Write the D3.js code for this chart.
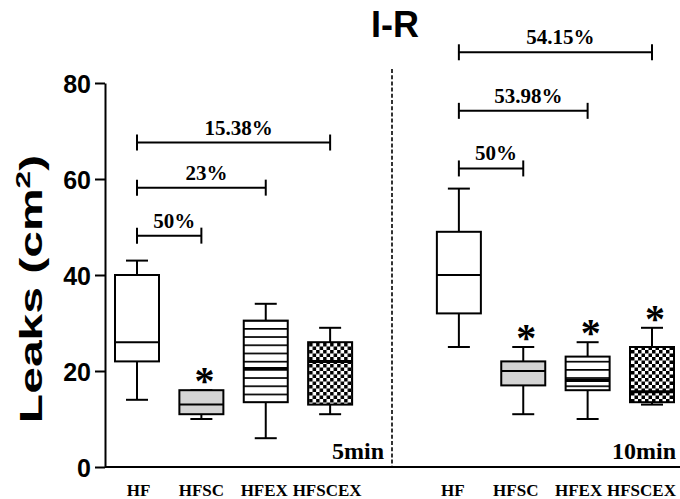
<!DOCTYPE html>
<html>
<head>
<meta charset="utf-8">
<script src="https://cdn.jsdelivr.net/npm/d3@7"></script>
<style>
  html, body { margin: 0; padding: 0; background: #fff; }
  svg { display: block; }
</style>
</head>
<body>
<svg id="chart" width="680" height="499"></svg>
<script>
// ---- data ----
const categories = ["HF", "HFSC", "HFEX", "HFSCEX"];
const periods = ["5min", "10min"];
const yTicks = [0, 20, 40, 60, 80];

const min5  = [14, 10, 6, 11];
const q1_5  = [22, 11, 13.5, 13];
const med5  = [26, 13, 20.5, 22];
const q3_5  = [40, 16, 30.5, 26];
const max5  = [43, 16, 34, 29];

const min10 = [25, 11, 10, 13];
const q1_10 = [32, 17, 16, 13.5];
const med10 = [40, 20, 18, 15.7];
const q3_10 = [49, 22, 23, 25];
const max10 = [58, 25, 26, 29];

const star5  = [false, true, false, false];
const star10 = [false, true, true, true];

// comparison brackets: from HF to target category
const bracketTargets = ["HFSC", "HFEX", "HFSCEX"];
const bracketLabels5  = ["50%", "23%", "15.38%"];
const bracketLevels5  = [48.2, 58.2, 67.6];
const bracketLabels10 = ["50%", "53.98%", "54.15%"];
const bracketLevels10 = [62.2, 74.2, 86.4];

// ---- layout ----
const svg = d3.select("#chart");
const y = d3.scaleLinear().domain([0, 80]).range([467, 83]);
const slot = (p, c) => p * 5 + categories.indexOf(c);
const x = d3.scaleLinear().domain([0, 8]).range([137, 652]);
const xLab = d3.scaleLinear().domain([0, 8]).range([138, 641]);
const boxW = 44, capW = 22;

const serif = "'Liberation Serif', 'Times New Roman', serif";
const sans = "'Liberation Sans', Arial, sans-serif";

// patterns
const defs = svg.append("defs");
const stripes = defs.append("pattern").attr("id", "stripes")
  .attr("patternUnits", "userSpaceOnUse").attr("width", 10).attr("height", 8.2);
stripes.append("rect").attr("width", 10).attr("height", 8.2).attr("fill", "#fff");
stripes.append("rect").attr("y", 0).attr("width", 10).attr("height", 1.7).attr("fill", "#000");
const checker = defs.append("pattern").attr("id", "checker")
  .attr("patternUnits", "userSpaceOnUse").attr("width", 7).attr("height", 7);
checker.append("rect").attr("width", 7).attr("height", 7).attr("fill", "#fff");
checker.append("rect").attr("width", 3.5).attr("height", 3.5).attr("fill", "#000");
checker.append("rect").attr("x", 3.5).attr("y", 3.5).attr("width", 3.5).attr("height", 3.5).attr("fill", "#000");

const fills = ["#ffffff", "#d4d4d4", "url(#stripes)", "url(#checker)"];

// build rows
const rows = [];
categories.forEach((c, i) => {
  rows.push({p: 0, c, i, min: min5[i], q1: q1_5[i], med: med5[i], q3: q3_5[i], max: max5[i], star: star5[i]});
});
categories.forEach((c, i) => {
  rows.push({p: 1, c, i, min: min10[i], q1: q1_10[i], med: med10[i], q3: q3_10[i], max: max10[i], star: star10[i]});
});

// ---- axes ----
const yAxis = svg.append("g").attr("transform", "translate(105,0)")
  .call(d3.axisLeft(y).tickValues(yTicks).tickSize(10).tickSizeOuter(0).tickPadding(4));
yAxis.select(".domain").attr("stroke", "#000").attr("stroke-width", 2);
yAxis.selectAll(".tick line").attr("stroke", "#000").attr("stroke-width", 2);
yAxis.selectAll(".tick text").attr("font-family", sans).attr("font-weight", "bold")
  .attr("font-size", 25).attr("fill", "#000").attr("dy", "0.36em");

// x axis baseline across full width
svg.append("line").attr("x1", 105).attr("x2", 680).attr("y1", y(0)).attr("y2", y(0))
  .attr("stroke", "#000").attr("stroke-width", 2);

const xTickVals = [];
periods.forEach((p, pi) => categories.forEach(c => xTickVals.push(slot(pi, c))));
const xAxis = svg.append("g").attr("transform", `translate(0,${y(0)})`)
  .call(d3.axisBottom(xLab).tickValues(xTickVals).tickSize(0).tickPadding(17)
    .tickFormat(v => categories[v % 5]));
xAxis.select(".domain").remove();
xAxis.selectAll(".tick text").attr("font-family", serif).attr("font-weight", "bold")
  .attr("font-size", 17).attr("fill", "#000");

// y label (horizontally stretched like the original)
svg.append("text")
  .attr("transform", "translate(42,289) rotate(-90) scale(1.5,1)")
  .attr("text-anchor", "middle")
  .attr("font-family", sans).attr("font-weight", "bold").attr("font-size", 32)
  .call(t => {
    t.append("tspan").text("Leaks (cm");
    t.append("tspan").attr("baseline-shift", "super").attr("font-size", 21).text("2");
    t.append("tspan").text(")");
  });

// title
svg.append("text").attr("x", 395).attr("y", 37).attr("text-anchor", "middle")
  .attr("font-family", sans).attr("font-weight", "bold").attr("font-size", 36).text("I-R");

// divider
svg.append("line").attr("x1", 392).attr("x2", 392).attr("y1", 69).attr("y2", y(0))
  .attr("stroke", "#000").attr("stroke-width", 1.6).attr("stroke-dasharray", "4,2.2");

// period labels
svg.selectAll("text.period").data(periods).join("text").attr("class", "period")
  .attr("x", (d, i) => i === 0 ? 384 : 676).attr("y", 459)
  .attr("text-anchor", "end").attr("font-family", serif).attr("font-weight", "bold")
  .attr("font-size", 24).text(d => d);

// ---- boxes ----
const g = svg.append("g");
const bx = g.selectAll("g.box").data(rows).join("g").attr("class", "box")
  .attr("transform", d => `translate(${x(slot(d.p, d.c))},0)`);
function st(sel) { return sel.attr("stroke", "#000").attr("stroke-width", 2); }

bx.append("line").attr("x1", 0).attr("x2", 0).attr("y1", d => y(d.max)).attr("y2", d => y(d.q3)).call(st);
bx.append("line").attr("x1", 0).attr("x2", 0).attr("y1", d => y(d.q1)).attr("y2", d => y(d.min)).call(st);
bx.append("line").attr("x1", -capW / 2).attr("x2", capW / 2).attr("y1", d => y(d.max)).attr("y2", d => y(d.max)).call(st);
bx.append("line").attr("x1", -capW / 2).attr("x2", capW / 2).attr("y1", d => y(d.min)).attr("y2", d => y(d.min)).call(st);
bx.append("rect").attr("x", -boxW / 2).attr("width", boxW)
  .attr("y", d => y(d.q3)).attr("height", d => y(d.q1) - y(d.q3))
  .attr("fill", d => fills[d.i]).call(st);
bx.append("line").attr("x1", -boxW / 2).attr("x2", boxW / 2)
  .attr("y1", d => y(d.med)).attr("y2", d => y(d.med))
  .attr("stroke", "#000").attr("stroke-width", d => d.i >= 2 ? 3 : 2);

// stars
bx.filter(d => d.star).append("text").attr("x", 3).attr("y", d => y(d.max) + 4)
  .attr("text-anchor", "middle").attr("font-family", serif).attr("font-weight", "bold")
  .attr("font-size", 40).text("*");

// ---- brackets ----
function brackets(pi, labels, levels) {
  bracketTargets.forEach((c, k) => {
    const x1 = x(slot(pi, "HF")), x2 = x(slot(pi, c)), yy = y(levels[k]);
    const bg = svg.append("g");
    bg.append("line").attr("x1", x1).attr("x2", x2).attr("y1", yy).attr("y2", yy).call(st);
    [x1, x2].forEach(xx => bg.append("line").attr("x1", xx).attr("x2", xx)
      .attr("y1", yy - 8).attr("y2", yy + 8).call(st));
    bg.append("text").attr("x", (x1 + x2) / 2 + 5).attr("y", yy - 8).attr("text-anchor", "middle")
      .attr("font-family", serif).attr("font-weight", "bold").attr("font-size", 21).text(labels[k]);
  });
}
brackets(0, bracketLabels5, bracketLevels5);
brackets(1, bracketLabels10, bracketLevels10);
</script>
</body>
</html>
